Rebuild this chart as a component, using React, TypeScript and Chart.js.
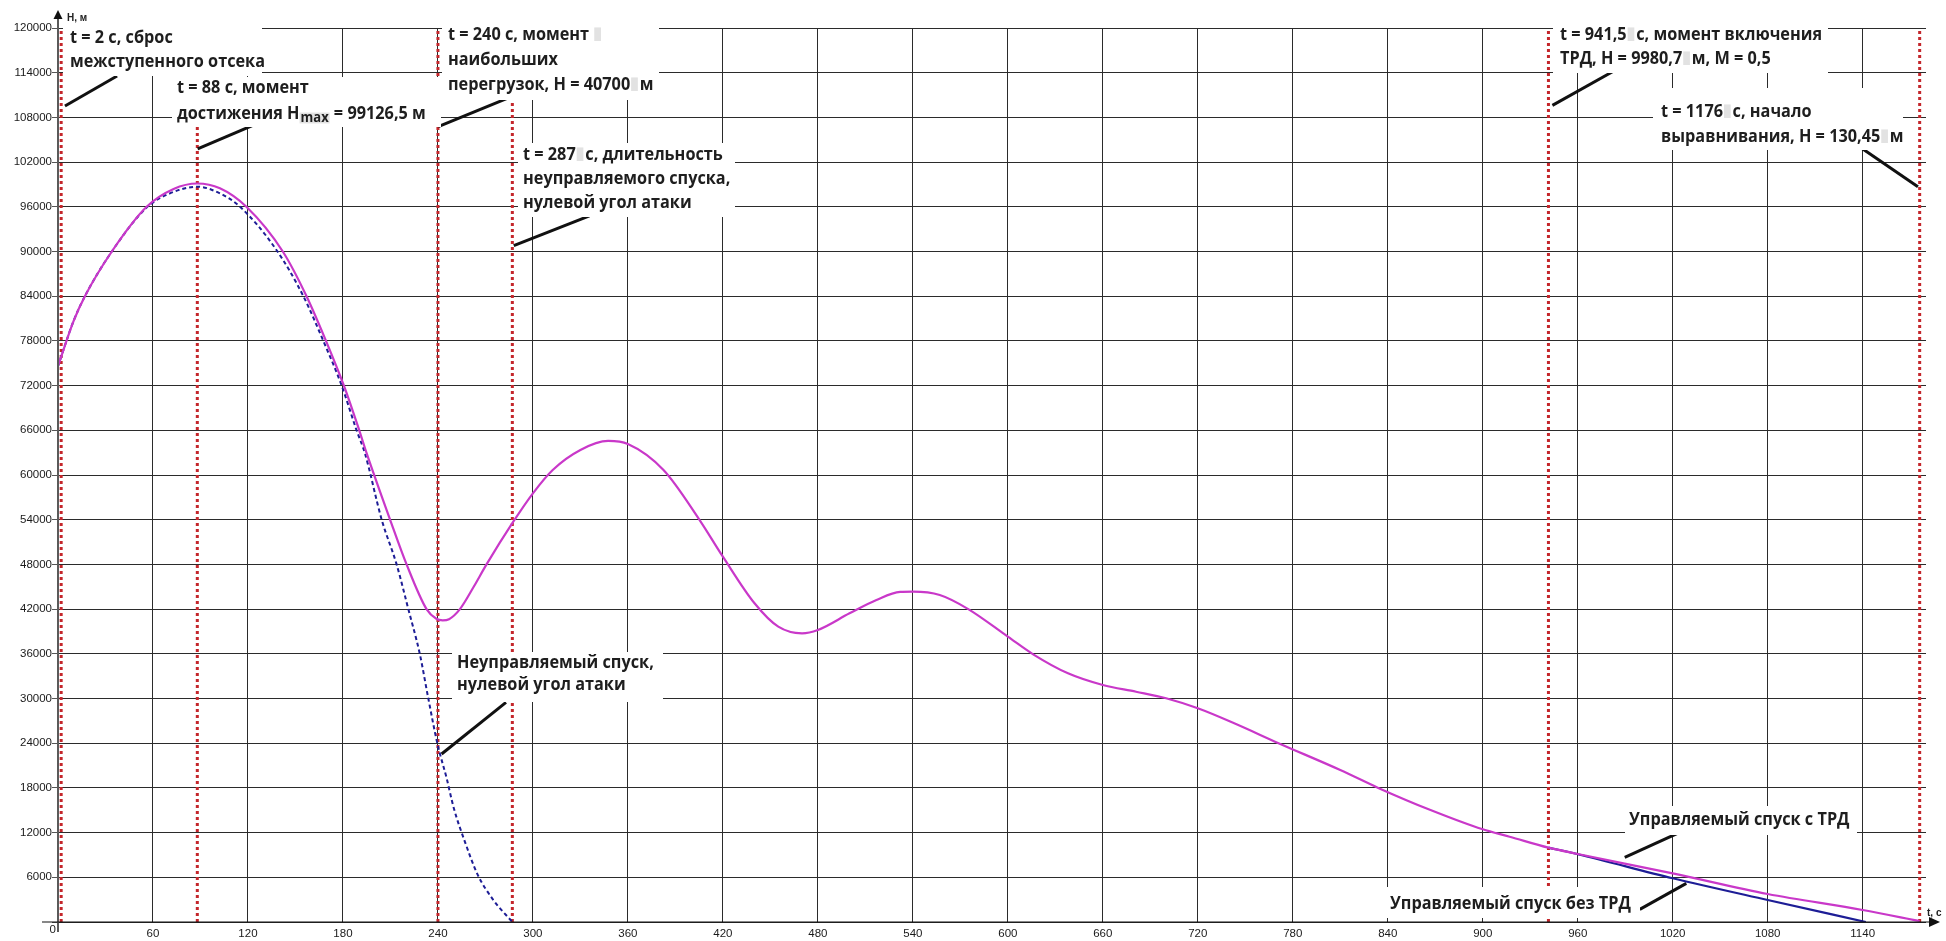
import React, { useEffect, useRef } from 'react';
import { Chart, registerables } from 'chart.js';

Chart.register(...registerables);

// ---------- data ----------
// Управляемый спуск с ТРД (magenta)
const T_TRD = [0, 9.7, 17, 34, 56, 73, 88, 102.3, 119, 142, 157, 169.3, 180.6, 190.3, 195, 209.7, 220.2, 232.8, 239, 243, 247, 253.9, 262.6, 270.7, 287.6, 300, 312.5, 330, 347.5, 360, 382.5, 405, 420, 440, 455, 470, 480, 500, 517, 532, 540, 557, 575, 600, 616, 638, 660, 681, 700, 720, 743, 771, 810, 834, 867, 900, 917, 941.5, 960, 1020, 1080, 1140, 1176];
const H_TRD = [74600, 80600, 84000, 90000, 96000, 98400, 99126.5, 98480, 96000, 90000, 84000, 78000, 72000, 66000, 62900, 54050, 48000, 42000, 40700, 40500, 40650, 42000, 45000, 48000, 53730, 57540, 60670, 63360, 64570, 64160, 60670, 54050, 49040, 42780, 39640, 38750, 39200, 41430, 43220, 44300, 44340, 43890, 42000, 38300, 35930, 33380, 31810, 30910, 30030, 28680, 26670, 24000, 20400, 18000, 15030, 12440, 11450, 9980.7, 9130, 6530, 3760, 1610, 130.45];

// Управляемый спуск без ТРД (navy)
const T_NO_TRD = [941.5, 960, 1020, 1080, 1142];
const H_NO_TRD = [9980.7, 9100, 5870, 2950, 0];

// Неуправляемый спуск, нулевой угол атаки (navy dashed)
const T_FREE = [0, 9.7, 17, 34, 56, 70.7, 88, 102.3, 115, 138, 155, 167.6, 179.2, 188.6, 193.9, 204.4, 213.9, 221.3, 228.6, 233.9, 239.6, 245.5, 250, 257, 265, 275, 287];
const H_FREE = [74600, 80600, 84000, 90000, 95900, 97800, 98700, 97800, 96000, 90200, 84000, 78000, 72000, 66000, 62900, 54050, 48000, 42000, 35930, 30030, 24000, 19300, 15300, 10800, 6400, 2950, 0];

// event markers (red dotted verticals)
const EVENT_T = [2, 88, 240, 287, 941.5, 1176];
const EVENT_TOP_H = [120000, 106980, 120000, 110880, 120000, 120000];

// leader lines (callout pointers) – endpoints in data units
const LEADER_T1 = [4.4, 88.2, 240.2, 287.9, 242.3, 944, 1138, 989.7, 999.2];
const LEADER_H1 = [109530, 103760, 106750, 90780, 22550, 109620, 104070, 8680, 1700];
const LEADER_T2 = [37.3, 122.7, 287.6, 335.7, 283, 985.9, 1174.9, 1032.4, 1028.6];
const LEADER_H2 = [113560, 106890, 110880, 94770, 29490, 114590, 98700, 12790, 5190];

// axis ticks
const X_MIN = 0;
const X_MAX = 1180;
const X_STEP = 60;
const Y_MIN = 0;
const Y_MAX = 120000;
const Y_STEP = 6000;

// callout texts
const CALLOUT_TEXTS = [
  ['t = 2 с, сброс', 'межступенного отсека'],
  ['t = 88 с, момент', 'достижения H_{max} = 99126,5 м'],
  ['t = 240 с, момент §', 'наибольших', 'перегрузок, H = 40700§м'],
  ['t = 287§с, длительность', 'неуправляемого спуска,', 'нулевой угол атаки'],
  ['Неуправляемый спуск,', 'нулевой угол атаки'],
  ['t = 941,5§с, момент включения', 'ТРД, H = 9980,7§м, M = 0,5'],
  ['t = 1176§с, начало', 'выравнивания, H = 130,45§м'],
  ['Управляемый спуск с ТРД'],
  ['Управляемый спуск без ТРД'],
];

// ---------- layout / style ----------
const W = 1946;
const H = 941;
const CALLOUT_LAYOUT = [
  { x: 70, base: [43, 67], box: [63, 18, 262, 76] },
  { x: 177, base: [93, 119], box: [172, 77, 441, 127] },
  { x: 448, base: [40, 65, 90], box: [442, 18, 659, 100] },
  { x: 523, base: [160, 184, 208], box: [518, 143, 735, 217] },
  { x: 457, base: [668, 690], box: [452, 652, 663, 702] },
  { x: 1560, base: [40, 64], box: [1553, 18, 1828, 73] },
  { x: 1661, base: [117, 142], box: [1653, 88, 1903, 150] },
  { x: 1629, base: [825], box: [1625, 806, 1857, 835] },
  { x: 1390, base: [909], box: [1385, 887, 1640, 918] },
];
const FAMILY = "'Open Sans', 'Noto Sans', sans-serif";
const TEXT_SIZE = 17;
const TEXT_COLOR = '#1e1e1e';
const MARK_GRAY = '#e2e2e2';
const MAGENTA = '#c938c9';
const NAVY = '#1d1d96';
const RED = '#c4262b';

function pts(xs: number[], ys: number[]) {
  return xs.map((x, i) => ({ x, y: ys[i] }));
}

function drawRich(ctx: CanvasRenderingContext2D, text: string, x: number, y: number, size: number, sx: number) {
  const parts = text.split(/(§|_\{[^}]*\})/);
  let cx = 0;
  const normal = `bold ${size}px ${FAMILY}`;
  ctx.save();
  ctx.translate(x, y);
  ctx.scale(sx, 1);
  ctx.font = normal;
  ctx.textAlign = 'left';
  ctx.textBaseline = 'alphabetic';
  for (const p of parts) {
    if (!p) continue;
    if (p === '§') {
      ctx.fillStyle = MARK_GRAY;
      ctx.fillRect(cx + 1, -size * 0.74, 7, size * 0.8);
      cx += 10;
      continue;
    }
    if (p.startsWith('_{')) {
      const s = p.slice(2, -1);
      const ss = size * 0.8;
      ctx.font = `bold ${ss}px ${FAMILY}`;
      const w = ctx.measureText(s).width;
      ctx.fillStyle = MARK_GRAY;
      ctx.fillRect(cx, -ss * 0.62 + 2, w + 2, ss * 0.8);
      ctx.fillStyle = TEXT_COLOR;
      ctx.fillText(s, cx + 1, 2.5);
      cx += w + 2;
      ctx.font = normal;
      continue;
    }
    ctx.fillStyle = TEXT_COLOR;
    ctx.fillText(p, cx, 0);
    cx += ctx.measureText(p).width;
  }
  ctx.restore();
}

const calloutPlugin = {
  id: 'callouts',
  afterDatasetsDraw(chart: any) {
    const ctx: CanvasRenderingContext2D = chart.ctx;
    ctx.save();
    ctx.font = `bold ${TEXT_SIZE}px ${FAMILY}`;
    const w = ctx.measureText('межступенного отсека').width;
    const sx = 195 / w;
    CALLOUT_TEXTS.forEach((lines, i) => {
      const L = CALLOUT_LAYOUT[i];
      const [x1, y1, x2, y2] = L.box;
      ctx.fillStyle = '#ffffff';
      ctx.fillRect(x1, y1, x2 - x1, y2 - y1);
      lines.forEach((line, j) => drawRich(ctx, line, L.x, L.base[j], TEXT_SIZE, sx));
    });
    ctx.restore();
  },
  afterDraw(chart: any) {
    const ctx: CanvasRenderingContext2D = chart.ctx;
    const xs = chart.scales.x;
    const ys = chart.scales.y;
    const x0 = xs.getPixelForValue(0);
    const y0 = ys.getPixelForValue(0);
    ctx.save();
    // y axis
    ctx.strokeStyle = '#5a5a5a';
    ctx.lineWidth = 2;
    ctx.beginPath();
    ctx.moveTo(x0, y0 + 10);
    ctx.lineTo(x0, 18);
    ctx.stroke();
    ctx.fillStyle = '#111';
    ctx.beginPath();
    ctx.moveTo(x0, 10);
    ctx.lineTo(x0 - 4.5, 19);
    ctx.lineTo(x0 + 4.5, 19);
    ctx.closePath();
    ctx.fill();
    // x axis
    ctx.strokeStyle = '#111';
    ctx.lineWidth = 1.2;
    ctx.beginPath();
    ctx.moveTo(42, y0);
    ctx.lineTo(1932, y0);
    ctx.stroke();
    ctx.beginPath();
    ctx.moveTo(1940, y0);
    ctx.lineTo(1929, y0 - 5);
    ctx.lineTo(1929, y0 + 5);
    ctx.closePath();
    ctx.fill();
    // axis titles
    ctx.fillStyle = '#222';
    ctx.font = `bold 10px 'Liberation Sans', Arial, sans-serif`;
    ctx.textAlign = 'left';
    ctx.textBaseline = 'alphabetic';
    ctx.fillText('H, м', x0 + 9, 21);
    ctx.fillText('t, с', 1927, 916);
    // origin label
    ctx.font = `11.5px 'Liberation Sans', Arial, sans-serif`;
    ctx.textAlign = 'right';
    ctx.fillText('0', x0 - 2, y0 + 11);
    ctx.restore();
  },
};

export default function App() {
  const ref = useRef<HTMLCanvasElement | null>(null);
  useEffect(() => {
    document.body.style.margin = '0';
    document.body.style.overflow = 'hidden';
    const canvas = ref.current;
    if (!canvas) return;

    const line = (data: any[], color: string, width: number, dash: number[] = [], smooth = false) => ({
      data,
      showLine: true,
      borderColor: color,
      backgroundColor: color,
      borderWidth: width,
      borderDash: dash,
      pointRadius: 0,
      pointHoverRadius: 0,
      fill: false,
      cubicInterpolationMode: smooth ? 'monotone' : 'default',
      tension: 0,
    });

    const datasets: any[] = [
      line(pts(T_TRD, H_TRD), MAGENTA, 2.2, [], true),
      line(pts(T_NO_TRD, H_NO_TRD), NAVY, 2.2, [], true),
      line(pts(T_FREE, H_FREE), NAVY, 2, [4, 3], true),
    ];
    LEADER_T1.forEach((t, i) => {
      datasets.push(line([{ x: t, y: LEADER_H1[i] }, { x: LEADER_T2[i], y: LEADER_H2[i] }], '#111111', 3));
    });
    EVENT_T.forEach((t, i) => {
      datasets.push(line([{ x: t, y: 0 }, { x: t, y: EVENT_TOP_H[i] }], RED, 3, [3, 3]));
    });

    const tickFont = { family: "'Liberation Sans', Arial, sans-serif", size: 11.5 };

    const chart = new Chart(canvas, {
      type: 'scatter',
      data: { datasets },
      options: {
        animation: false,
        responsive: false,
        maintainAspectRatio: false,
        layout: { padding: { top: 28, right: 20, left: 0, bottom: 0 } },
        plugins: { legend: { display: false }, tooltip: { enabled: false } },
        scales: {
          x: {
            type: 'linear',
            min: X_MIN,
            max: X_MAX,
            ticks: {
              stepSize: X_STEP,
              includeBounds: false,
              autoSkip: false,
              maxRotation: 0,
              padding: 5,
              color: '#1a1a1a',
              font: tickFont,
              callback: (v: any) => (v === 0 ? '' : String(v)),
            },
            grid: { color: '#2b2b2b', lineWidth: 1, drawTicks: false },
            border: { display: false },
            afterFit: (s: any) => {
              s.height = 19;
            },
          },
          y: {
            type: 'linear',
            min: Y_MIN,
            max: Y_MAX,
            ticks: {
              stepSize: Y_STEP,
              includeBounds: false,
              autoSkip: false,
              padding: 0,
              color: '#1a1a1a',
              font: tickFont,
              callback: (v: any) => (v === 0 ? '' : String(v)),
            },
            grid: { color: '#2b2b2b', lineWidth: 1, drawTicks: true, tickLength: 6, tickColor: '#555' },
            border: { display: false },
            afterFit: (s: any) => {
              s.width = 58;
            },
          },
        },
      } as any,
      plugins: [calloutPlugin],
    });
    return () => chart.destroy();
  }, []);

  return (
    <canvas
      ref={ref}
      width={W}
      height={H}
      style={{ position: 'absolute', left: 0, top: 0, width: W, height: H, background: '#fff' }}
    />
  );
}
